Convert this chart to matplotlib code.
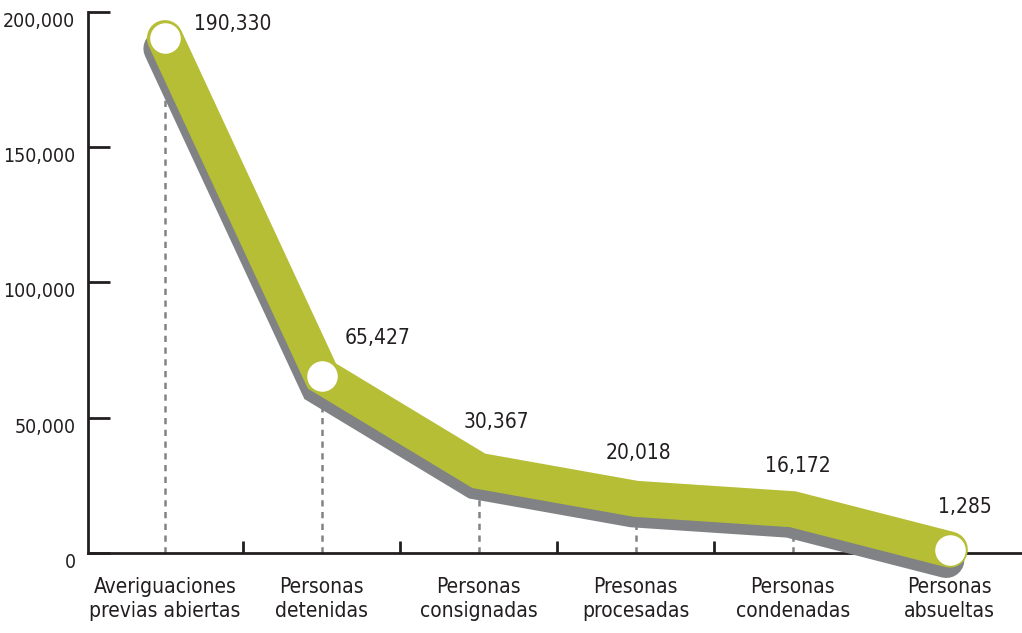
import matplotlib
matplotlib.use('Agg')
import matplotlib.pyplot as plt
import matplotlib.patheffects as path_effects
import numpy as np

plt.rcParams['font.family'] = ['DejaVu Sans']
plt.rcParams['font.stretch'] = 'condensed'

categories = ['Averiguaciones\nprevias abiertas', 'Personas\ndetenidas', 'Personas\nconsignadas',
              'Presonas\nprocesadas', 'Personas\ncondenadas', 'Personas\nabsueltas']
values = [190330, 65427, 30367, 20018, 16172, 1285]
value_labels = ['190,330', '65,427', '30,367', '20,018', '16,172', '1,285']
yticks = [0, 50000, 100000, 150000, 200000]
ytick_labels = ['0', '50,000', '100,000', '150,000', '200,000']

# label offsets in pixels (layout only)
label_offsets = [(68, 14), (56, 38), (18, 49), (3, 46), (5, 43), (15, 43)]

green = '#b5be35'
gray = '#808285'
dark = '#231f20'
fs = 15

fig = plt.figure(figsize=(10.22, 6.33), dpi=100)
ax = fig.add_axes([88 / 1022, 80 / 633, 1 - 88 / 1022, 541 / 633])

x = np.arange(len(values))

# dashed guides
for xi, v in zip(x, values):
    ax.plot([xi, xi], [0, v], color=gray, lw=1.8, ls=(0, (2.5, 2.2)), zorder=1)

line, = ax.plot(x, values, color=green, lw=26, solid_capstyle='round', solid_joinstyle='miter',
                zorder=3, clip_on=False)
line.set_path_effects([path_effects.SimpleLineShadow(offset=(-2.5, -7.5), shadow_color=gray, alpha=1, rho=1),
                       path_effects.Normal()])

for i in [0, 1, 5]:
    ax.plot(x[i], values[i], 'o', ms=23, mfc='white', mec=green, mew=1, zorder=4, clip_on=False)

for xi, v, lab, off in zip(x, values, value_labels, label_offsets):
    ax.annotate(lab, (xi, v), xytext=(off[0] * 0.72, off[1] * 0.72), textcoords='offset points',
                ha='center', va='center', fontsize=fs, color=dark, zorder=5)

ax.set_xlim(-0.49, 5.46)
ax.set_ylim(0, 200000)

for s in ['top', 'right']:
    ax.spines[s].set_visible(False)
for s in ['left', 'bottom']:
    ax.spines[s].set_color(dark)
    ax.spines[s].set_linewidth(2)
    ax.spines[s].set_zorder(2)

ax.set_yticks(yticks)
ax.set_yticklabels(ytick_labels, fontsize=14, color=dark, va='top')
ax.tick_params(axis='y', direction='in', length=16, width=2, color=dark, pad=9)

ax.set_xticks(x[:-1] + 0.5)
ax.set_xticklabels([])
ax.tick_params(axis='x', which='major', direction='in', length=9, width=2, color=dark)
ax.set_xticks(x, minor=True)
ax.set_xticklabels(categories, minor=True, fontsize=fs, color=dark, linespacing=1.25)
ax.tick_params(axis='x', which='minor', length=0, pad=17)

fig.savefig('out.png', dpi=100)
